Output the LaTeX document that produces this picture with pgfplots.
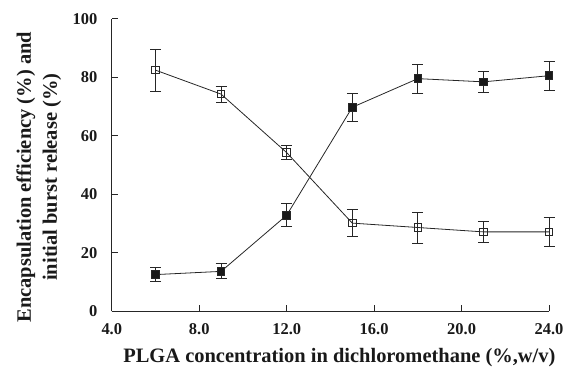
\documentclass[border=0pt]{standalone}
\usepackage{pgfplots}
\pgfplotsset{compat=1.18}
\usepackage{fontspec}
\setmainfont{Liberation Serif}
\begin{document}
\begin{tikzpicture}
\begin{axis}[
  scale only axis,
  width=438pt, height=293pt,
  xmin=4, xmax=24, ymin=0, ymax=100,
  axis lines=left,
  axis line style={-, line width=1pt, black!85},
  xtick={4,8,12,16,20,24},
  ytick={0,20,40,60,80,100},
  xticklabels={4.0,8.0,12.0,16.0,20.0,24.0},
  tick align=inside,
  major tick length=6pt,
  tick style={line width=1pt, black!85},
  /pgf/number format/assume math mode=true,
  ticklabel style={font=\fontsize{16.5}{16.5}\selectfont\bfseries, text=black!90},
  xticklabel style={yshift=-9pt},
  yticklabel style={xshift=-11pt},
  xlabel={PLGA concentration in dichloromethane (\%,w/v)},
  ylabel={Encapsulation efficiency (\%) and\\initial burst release (\%)},
  ylabel style={align=center, font=\fontsize{20.5}{26}\selectfont\bfseries, text=black!90,
    at={([xshift=-73pt,yshift=-12pt]rel axis cs:0,0.5)}, anchor=center},
  xlabel style={font=\fontsize{20.5}{20.5}\selectfont\bfseries, text=black!90,
    at={([xshift=9pt,yshift=-51pt]rel axis cs:0.5,0)}, anchor=base},
  clip=false,
]
\path (rel axis cs:0,0) coordinate (A) (rel axis cs:1,1) coordinate (B);
\addplot[black!85, line width=0.8pt, mark=square, mark size=3.8pt,
  mark options={fill=white, solid, line width=1pt},
  error bars/.cd, y dir=both, y explicit,
  error bar style={line width=1pt, black!85},
  error mark options={rotate=90, mark size=5.5pt, line width=1pt}]
  coordinates {
  (6,82.5) +- (0,7.2)
  (9,74.3) +- (0,2.7)
  (12,54.3) +- (0,2.5)
  (15,30.2) +- (0,4.6)
  (18,28.7) +- (0,5.3)
  (21,27.2) +- (0,3.5)
  (24,27.2) +- (0,5.0)
  };
\addplot[black!85, line width=0.8pt, mark=square*, mark size=3.8pt,
  mark options={fill=black!90, solid, line width=1pt},
  error bars/.cd, y dir=both, y explicit,
  error bar style={line width=1pt, black!85},
  error mark options={rotate=90, mark size=5.5pt, line width=1pt}]
  coordinates {
  (6,12.6) +- (0,2.3)
  (9,13.7) +- (0,2.6)
  (12,32.9) +- (0,4.0)
  (15,69.8) +- (0,4.7)
  (18,79.6) +- (0,5.0)
  (21,78.5) +- (0,3.5)
  (24,80.6) +- (0,5.0)
  };
\end{axis}
\pgfresetboundingbox
\path ([shift={(-112pt,-57pt)}]A) rectangle ([shift={(18pt,19pt)}]B);
\end{tikzpicture}
\end{document}
